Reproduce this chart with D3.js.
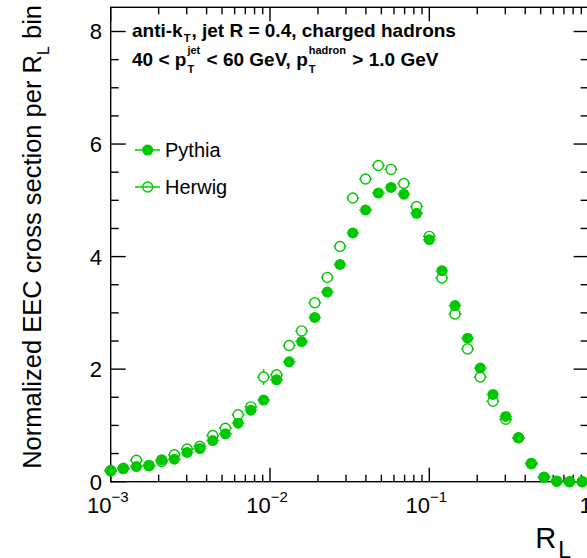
<!DOCTYPE html>
<html>
<head>
  <title>Normalized EEC</title>
  <script src="https://d3js.org/d3.v7.min.js"></script>
  <style>
    body { margin: 0; background: #fff; }
    text { font-family: "Liberation Sans", Arial, Helvetica, sans-serif; }
  </style>
</head>
<body>
  <svg id="chart" width="587" height="558"></svg>

  <script>
    // bin centres in R_L (log-spaced bins, 0.08 dex wide)
    var rlCenters = [0.00100, 0.00120, 0.00145, 0.00174, 0.00209, 0.00251, 0.00302, 0.00363,
      0.00437, 0.00525, 0.00631, 0.00759, 0.00912, 0.0110, 0.0132, 0.0158, 0.0191, 0.0229,
      0.0275, 0.0331, 0.0398, 0.0479, 0.0575, 0.0692, 0.0832, 0.100, 0.120, 0.145, 0.174,
      0.209, 0.251, 0.302, 0.363, 0.437, 0.525, 0.631, 0.759, 0.912];
    var binHalfWidthDex = 0.04;

    var pythia = [0.19, 0.23, 0.27, 0.28, 0.39, 0.40, 0.52, 0.59, 0.73, 0.85, 1.04, 1.27,
      1.45, 1.81, 2.13, 2.49, 2.92, 3.37, 3.86, 4.42, 4.83, 5.13, 5.23, 5.11, 4.77, 4.30,
      3.75, 3.13, 2.55, 2.02, 1.55, 1.16, 0.78, 0.33, 0.08, 0.01, 0.00, 0.00];
    var pythiaErr = [0.02, 0.02, 0.02, 0.02, 0.02, 0.02, 0.02, 0.02, 0.03, 0.03, 0.03, 0.03,
      0.04, 0.04, 0.04, 0.04, 0.04, 0.04, 0.04, 0.04, 0.04, 0.04, 0.04, 0.04, 0.04, 0.04,
      0.04, 0.04, 0.04, 0.03, 0.03, 0.03, 0.02, 0.02, 0.01, 0.01, 0.00, 0.00];

    var herwig = [0.20, 0.24, 0.38, 0.29, 0.36, 0.48, 0.58, 0.63, 0.82, 0.95, 1.19, 1.33,
      1.86, 1.90, 2.42, 2.68, 3.18, 3.63, 4.18, 5.04, 5.38, 5.62, 5.55, 5.30, 4.89, 4.36,
      3.62, 2.98, 2.36, 1.86, 1.43, 1.11, 0.78, 0.32, 0.08, 0.01, 0.00, 0.00];
    var herwigErr = [0.03, 0.03, 0.07, 0.03, 0.04, 0.04, 0.04, 0.04, 0.05, 0.05, 0.05, 0.06,
      0.14, 0.07, 0.07, 0.07, 0.07, 0.07, 0.07, 0.07, 0.07, 0.07, 0.07, 0.07, 0.07, 0.07,
      0.07, 0.07, 0.07, 0.06, 0.06, 0.05, 0.04, 0.03, 0.02, 0.01, 0.00, 0.00];

    var yMajorTicks = [0, 2, 4, 6, 8];
    var xDecadeTicks = [1e-3, 1e-2, 1e-1, 1];
    var xDecadeLabels = [["10", "\u22123"], ["10", "\u22122"], ["10", "\u22121"], ["1", ""]];

    var seriesNames = ["Pythia", "Herwig"];
    var green = "#00c800";

    // frame (right edge falls just outside the picture)
    var fLeft = 110.7, fRight = 588.6, fTop = 7.3, fBottom = 481.7;

    var svg = d3.select("#chart");

    var x = d3.scaleLog().domain([1e-3, 1]).range([fLeft, fRight]);
    var y = d3.scaleLinear().domain([0, 8.43]).range([fBottom, fTop]);

    // minor ticks
    var xMinor = [];
    [1e-3, 1e-2, 1e-1].forEach(function(d) {
      for (var k = 2; k <= 9; k++) xMinor.push(d * k);
    });
    var yMinor = d3.range(0, 8.43, 0.5).filter(function(v) { return v % 2 !== 0; });

    var axes = svg.append("g").attr("stroke", "#000").attr("stroke-width", 1.4);

    // ticks on all four sides
    xDecadeTicks.forEach(function(d) {
      axes.append("line").attr("x1", x(d)).attr("x2", x(d)).attr("y1", fBottom).attr("y2", fBottom - 14);
      axes.append("line").attr("x1", x(d)).attr("x2", x(d)).attr("y1", fTop).attr("y2", fTop + 14);
    });
    xMinor.forEach(function(d) {
      axes.append("line").attr("x1", x(d)).attr("x2", x(d)).attr("y1", fBottom).attr("y2", fBottom - 7);
      axes.append("line").attr("x1", x(d)).attr("x2", x(d)).attr("y1", fTop).attr("y2", fTop + 7);
    });
    yMajorTicks.forEach(function(v) {
      axes.append("line").attr("x1", fLeft).attr("x2", fLeft + 15).attr("y1", y(v)).attr("y2", y(v));
      axes.append("line").attr("x1", fRight).attr("x2", fRight - 15).attr("y1", y(v)).attr("y2", y(v));
    });
    yMinor.forEach(function(v) {
      axes.append("line").attr("x1", fLeft).attr("x2", fLeft + 8).attr("y1", y(v)).attr("y2", y(v));
      axes.append("line").attr("x1", fRight).attr("x2", fRight - 8).attr("y1", y(v)).attr("y2", y(v));
    });

    axes.append("rect")
      .attr("x", fLeft).attr("y", fTop)
      .attr("width", fRight - fLeft).attr("height", fBottom - fTop)
      .attr("fill", "none");

    // y tick labels
    svg.selectAll("text.ylab")
      .data(yMajorTicks)
      .enter()
      .append("text")
      .attr("class", "ylab")
      .attr("x", 102)
      .attr("y", function(d) { return y(d) + 8; })
      .attr("text-anchor", "end")
      .attr("font-size", 22)
      .text(function(d) { return d; });

    // x tick labels: 10^n
    xDecadeTicks.forEach(function(d, i) {
      var t = svg.append("text")
        .attr("y", 513)
        .attr("font-size", 22);
      t.append("tspan").text(xDecadeLabels[i][0]);
      t.append("tspan").attr("font-size", 15).attr("dy", -11).text(xDecadeLabels[i][1]);
      var w = t.node().getComputedTextLength();
      t.attr("x", x(d) - w / 2 - 3);
    });

    // helper: write pieces one after another, with stacked sub/superscripts
    function richText(g, x0, y0, size, weight, parts) {
      var cx = x0;
      parts.forEach(function(p) {
        if (typeof p === "string") {
          var t = g.append("text").attr("x", cx).attr("y", y0)
            .attr("font-size", size).attr("font-weight", weight)
            .style("white-space", "pre").text(p);
          cx += t.node().getComputedTextLength();
        } else {
          var w = 0;
          if (p.sub) {
            var s = g.append("text").attr("x", cx + 1).attr("y", y0 + p.subDy)
              .attr("font-size", p.size).attr("font-weight", weight).text(p.sub);
            w = Math.max(w, s.node().getComputedTextLength());
          }
          if (p.sup) {
            var u = g.append("text").attr("x", cx + 1).attr("y", y0 - p.supDy)
              .attr("font-size", p.size).attr("font-weight", weight).text(p.sup);
            w = Math.max(w, u.node().getComputedTextLength());
          }
          cx += w + 2;
        }
      });
    }

    var label = svg.append("g");
    richText(label, 132, 37, 19, "bold", [
      "anti-k", { sub: "T", subDy: 5, size: 11 }, ", jet R = 0.4, charged hadrons"
    ]);
    richText(label, 132, 66, 19, "bold", [
      "40 < p", { sub: "T", sup: "jet", subDy: 7, supDy: 12, size: 11 },
      " < 60 GeV, p", { sub: "T", sup: "hadron", subDy: 7, supDy: 12, size: 11 },
      " > 1.0 GeV"
    ]);

    // y title (rotated)
    var yt = svg.append("text")
      .attr("transform", "translate(41,5) rotate(-90)")
      .attr("text-anchor", "end")
      .attr("font-size", 25.5);
    yt.append("tspan").text("Normalized EEC cross section per R");
    yt.append("tspan").attr("font-size", 16).attr("dy", 8).text("L");
    yt.append("tspan").attr("dy", -8).text(" bin");

    // x title
    var xt = svg.append("text")
      .attr("x", 571)
      .attr("y", 548)
      .attr("text-anchor", "end")
      .attr("font-size", 29);
    xt.append("tspan").text("R");
    xt.append("tspan").attr("font-size", 23).attr("dx", 2).attr("dy", 10).text("L");

    // data points; error bars are only drawn outside the marker
    function drawSeries(values, errs, filled) {
      var r = filled ? 5.5 : 5;
      var g = svg.append("g").attr("stroke", green).attr("stroke-width", 1.5);
      var data = rlCenters.map(function(c, i) { return { c: c, v: values[i], e: errs[i] }; });
      data.forEach(function(d) {
        var cx = x(d.c), cy = y(d.v);
        var xlo = x(d.c / Math.pow(10, binHalfWidthDex));
        var xhi = x(d.c * Math.pow(10, binHalfWidthDex));
        var ylo = y(d.v - d.e), yhi = y(d.v + d.e);
        if (cx - xlo > r) g.append("line").attr("x1", xlo).attr("x2", cx - r).attr("y1", cy).attr("y2", cy);
        if (xhi - cx > r) g.append("line").attr("x1", cx + r).attr("x2", xhi).attr("y1", cy).attr("y2", cy);
        if (ylo - cy > r) {
          g.append("line").attr("x1", cx).attr("x2", cx).attr("y1", cy + r).attr("y2", ylo);
          g.append("line").attr("x1", cx).attr("x2", cx).attr("y1", cy - r).attr("y2", yhi);
        }
      });
      g.selectAll("circle").data(data).enter().append("circle")
        .attr("cx", function(d) { return x(d.c); })
        .attr("cy", function(d) { return y(d.v); })
        .attr("r", r)
        .attr("fill", filled ? green : "none")
        .attr("stroke-width", filled ? 0 : 1.4);
    }
    drawSeries(pythia, pythiaErr, true);
    drawSeries(herwig, herwigErr, false);

    // legend
    var legendY = [150, 187];
    seriesNames.forEach(function(name, i) {
      var g = svg.append("g");
      g.append("line").attr("x1", 135).attr("x2", 160)
        .attr("y1", legendY[i]).attr("y2", legendY[i])
        .attr("stroke", green).attr("stroke-width", 1.5);
      g.append("circle").attr("cx", 147.7).attr("cy", legendY[i])
        .attr("r", i === 0 ? 5.5 : 5)
        .attr("fill", i === 0 ? green : "none")
        .attr("stroke", green).attr("stroke-width", i === 0 ? 0 : 1.4);
      g.append("text").attr("x", 165).attr("y", legendY[i] + 7)
        .attr("font-size", 20).text(name);
    });
  </script>
</body>
</html>
